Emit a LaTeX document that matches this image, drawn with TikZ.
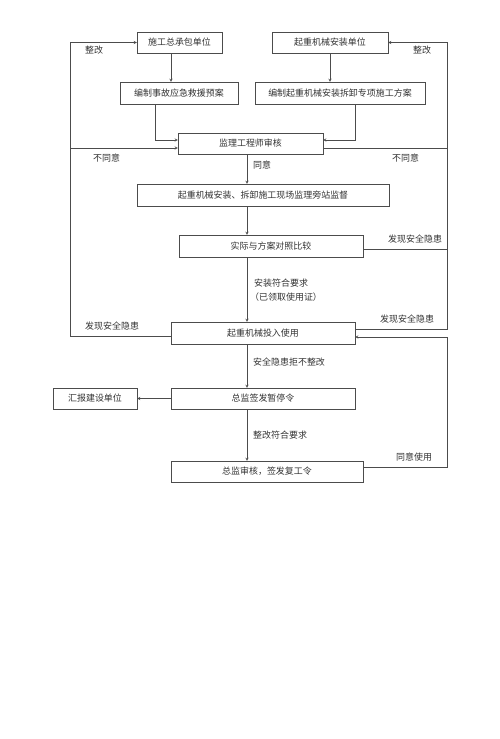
\documentclass[tikz,border=0pt]{standalone}
\usepackage{fontspec}
\setmainfont{Liberation Serif}
\newfontfamily\cjk{Noto Sans CJK SC}
\begin{document}
\begin{tikzpicture}[x=1bp,y=-1bp,>=stealth,font=\cjk\fontsize{9}{11}\selectfont]
        \tikzstyle{block}=[rectangle,draw=black!70,fill=white,minimum height=21bp,inner sep=0pt,text=black!80]
        \tikzstyle{edge}=[draw=black!70,thin]
        \tikzstyle{note}=[anchor=west,inner sep=0pt,text=black!80]
        \useasboundingbox (0,0) rectangle (500,739);
       \begin{scope}
         \node [block,minimum width=85bp] (b1) at (179.5,42.5) {施工总承包单位};
         \node [block,minimum width=116bp] (b2) at (330,42.5) {起重机械安装单位};
         \node [block,minimum width=118bp,minimum height=22bp] (b3) at (179,93) {编制事故应急救援预案};
         \node [block,minimum width=170bp,minimum height=22bp] (b4) at (340,93) {编制起重机械安装拆卸专项施工方案};
         \node [block,minimum width=145bp] (b5) at (250.5,143.5) {监理工程师审核};
         \node [block,minimum width=252bp,minimum height=22bp] (b6) at (263,195) {起重机械安装、拆卸施工现场监理旁站监督};
         \node [block,minimum width=184bp,minimum height=22bp] (b7) at (271,246) {实际与方案对照比较};
         \node [block,minimum width=184bp,minimum height=22bp] (b8) at (263,333) {起重机械投入使用};
         \node [block,minimum width=184bp] (b9) at (263,398.5) {总监签发暂停令};
         \node [block,minimum width=84bp] (b10) at (95,398.5) {汇报建设单位};
         \node [block,minimum width=192bp] (b11) at (267,471.5) {总监审核，签发复工令};

         \coordinate (sp) at (247,0);
         \coordinate (lx) at (70,0);
         \coordinate (rx) at (447,0);
         \coordinate (c1) at (171,0);
         \coordinate (c2) at (330,0);
         \coordinate (c3) at (155,0);
         \coordinate (c4) at (355,0);
         \coordinate (n5a) at ([yshift=3.5bp]b5.west);
         \coordinate (n5b) at ([yshift=3.5bp]b5.east);
         \coordinate (n5l) at ([yshift=-4.5bp]b5.west);
         \coordinate (n5r) at ([yshift=-4.5bp]b5.east);
         \coordinate (n7r) at ([yshift=-3bp]b7.east);
         \coordinate (n8l) at ([yshift=-3bp]b8.west);
         \coordinate (n8a) at ([yshift=4bp]b8.east);
         \coordinate (n8b) at ([yshift=-4bp]b8.east);
         \coordinate (n11r) at ([yshift=4.5bp]b11.east);

         \path[edge,->] (b1.south -| c1) -- (b3.north -| c1);
         \path[edge,->] (b2.south -| c2) -- (b4.north -| c2);
         \path[edge,->] (b3.south -| c3) |- (n5a);
         \path[edge,->] (b4.south -| c4) |- (n5b);
         \path[edge,->] (b5.south -| sp) -- (b6.north -| sp);
         \path[edge,->] (b6.south -| sp) -- (b7.north -| sp);
         \path[edge,->] (b7.south -| sp) -- (b8.north -| sp);
         \path[edge,->] (b8.south -| sp) -- (b9.north -| sp);
         \path[edge,->] (b9.south -| sp) -- (b11.north -| sp);
         \path[edge,->] (b9.west) -- (b10.east);
         \path[edge,->] (n8l) -| (lx |- b1.west) -- (b1.west);
         \path[edge,->] (n5l -| lx) -- (n5l);
         \path[edge,->] (n8a) -| (rx |- b2.east) -- (b2.east);
         \path[edge] (n5r) -- (n5r -| rx);
         \path[edge] (n7r) -- (n7r -| rx);
         \path[edge,->] (n11r) -| (rx |- n8b) -- (n8b);

         \node [note] (l1) at (85,50) {整改};
         \node [note] (l2) at (413,50) {整改};
         \node [note] (l3) at (93,158) {不同意};
         \node [note] (l4) at (392,158) {不同意};
         \node [note] (l5) at (253,165) {同意};
         \node [note] (l6) at (388,239) {发现安全隐患};
         \node [note] (l7) at (254,283) {安装符合要求};
         \node [note] (l8) at (250,297) {（已领取使用证）};
         \node [note] (l9) at (85,326) {发现安全隐患};
         \node [note] (l10) at (380,319) {发现安全隐患};
         \node [note] (l11) at (253,362) {安全隐患拒不整改};
         \node [note] (l12) at (253,435) {整改符合要求};
         \node [note] (l13) at (396,457) {同意使用};
        \end{scope}
      \end{tikzpicture}
\end{document}
